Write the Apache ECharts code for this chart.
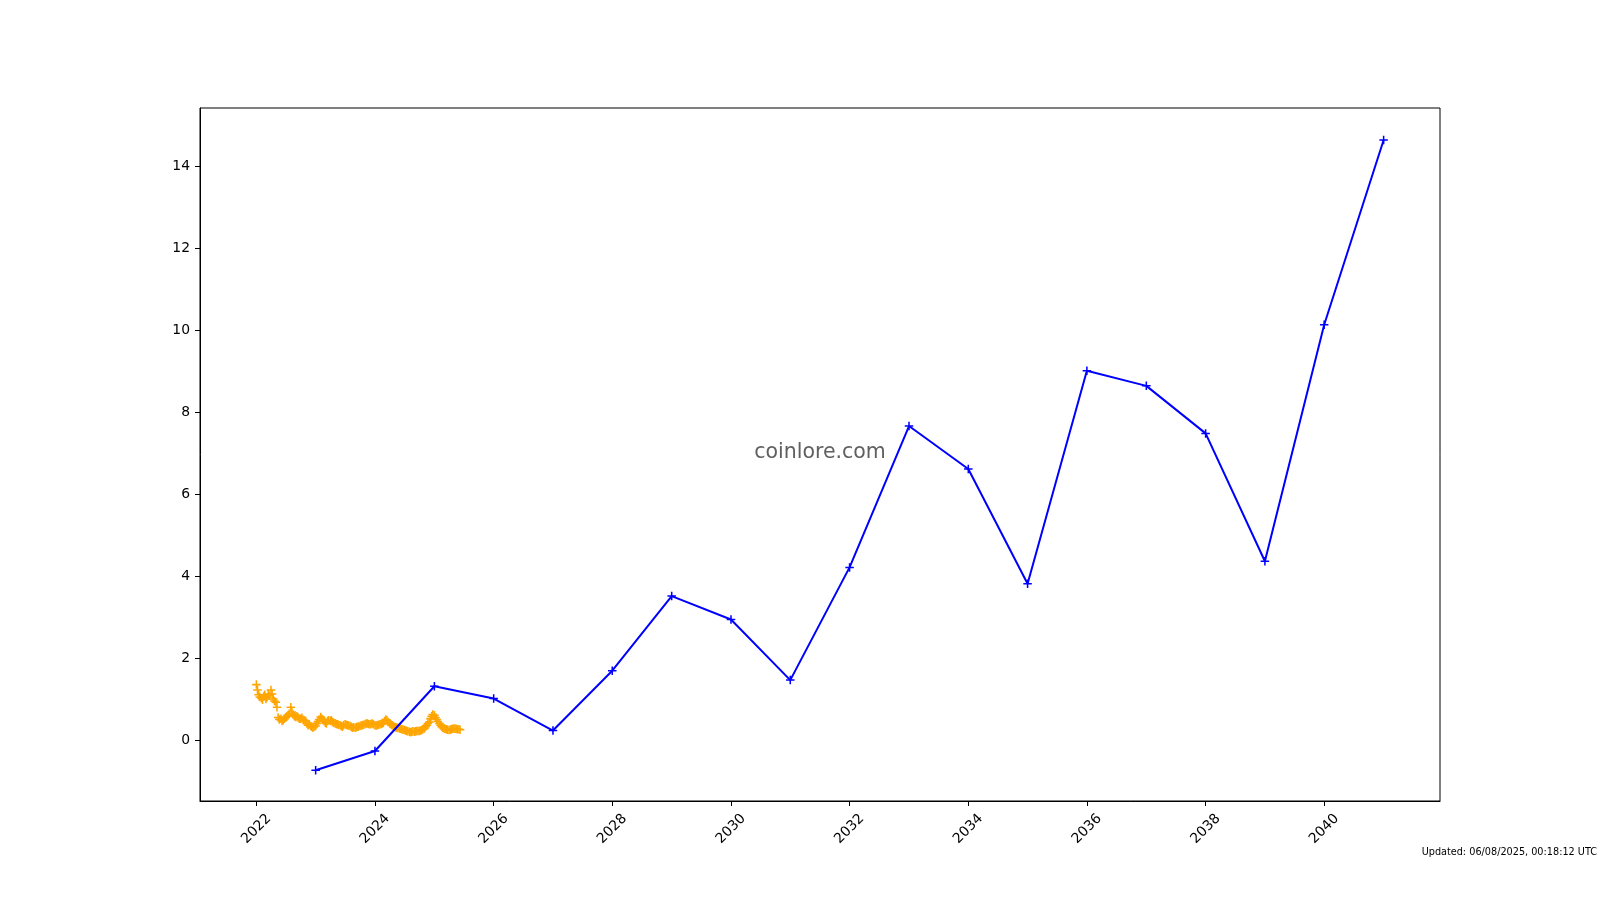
<!DOCTYPE html>
<html>
<head>
<meta charset="utf-8">
<script src="https://cdn.jsdelivr.net/npm/echarts@6/dist/echarts.min.js"></script>
<style>html,body{margin:0;padding:0;background:#fff}#c{width:1600px;height:900px}</style>
</head>
<body>
<div id="c"></div>
<script>
// Forecast (blue) series
var forecastDates = ['2023-01-01','2024-01-01','2025-01-01','2026-01-01','2027-01-01','2028-01-01','2029-01-01','2030-01-01','2031-01-01','2032-01-01','2033-01-01','2034-01-01','2035-01-01','2036-01-01','2037-01-01','2038-01-01','2039-01-01','2040-01-01','2041-01-01'];
var forecastValues = [-0.74,-0.27,1.31,1.01,0.23,1.69,3.51,2.94,1.46,4.21,7.66,6.61,3.81,9.01,8.64,7.48,4.36,10.13,14.64];

// Historical price (orange) series: one row per month, values on days 1, 8, 15, 22
var historyMonths = [
 '2022-01','2022-02','2022-03','2022-04','2022-05','2022-06','2022-07','2022-08','2022-09','2022-10','2022-11','2022-12',
 '2023-01','2023-02','2023-03','2023-04','2023-05','2023-06','2023-07','2023-08','2023-09','2023-10','2023-11','2023-12',
 '2024-01','2024-02','2024-03','2024-04','2024-05','2024-06','2024-07','2024-08','2024-09','2024-10','2024-11','2024-12',
 '2025-01','2025-02','2025-03','2025-04','2025-05','2025-06'
];
var historyDays = [1,8,15,22];
var historyValues = [
 [1.35,1.22,1.10,1.05],[1.02,0.98,1.06,1.10],[1.00,1.04,1.12,1.08],[1.22,1.12,1.00,0.95],[0.92,0.80,0.55,0.50],[0.52,0.46,0.48,0.52],
 [0.55,0.58,0.60,0.64],[0.80,0.68,0.62,0.58],[0.56,0.58,0.55,0.52],[0.52,0.54,0.50,0.48],[0.46,0.40,0.36,0.38],[0.34,0.32,0.30,0.32],
 [0.34,0.40,0.45,0.50],[0.56,0.52,0.50,0.46],[0.42,0.40,0.46,0.48],[0.46,0.48,0.44,0.42],[0.40,0.39,0.38,0.37],[0.36,0.34,0.32,0.36],
 [0.38,0.37,0.36,0.35],[0.34,0.32,0.30,0.31],[0.30,0.31,0.32,0.33],[0.34,0.35,0.36,0.37],[0.38,0.40,0.40,0.39],[0.38,0.39,0.40,0.38],
 [0.36,0.35,0.36,0.37],[0.38,0.39,0.40,0.42],[0.46,0.50,0.48,0.44],[0.40,0.38,0.36,0.34],[0.32,0.31,0.30,0.29],[0.28,0.27,0.26,0.25],
 [0.24,0.23,0.22,0.21],[0.20,0.19,0.20,0.21],[0.20,0.21,0.22,0.22],[0.22,0.23,0.24,0.26],[0.28,0.32,0.36,0.40],[0.44,0.52,0.58,0.62],
 [0.60,0.55,0.50,0.45],[0.40,0.36,0.32,0.30],[0.28,0.27,0.26,0.25],[0.24,0.25,0.26,0.27],[0.28,0.27,0.27,0.26],[0.26,0.25]
];

var xTickYears = [2022,2024,2026,2028,2030,2032,2034,2036,2038,2040];
var yTicks = [0,2,4,6,8,10,12,14];

function ts(s){var p=s.split('-');return Date.UTC(+p[0],+p[1]-1,+p[2]);}
var xTicks = xTickYears.map(function(y){return Date.UTC(y,0,1);});
var forecastData = forecastDates.map(function(d,i){return [ts(d),forecastValues[i]];});
var historyData = [];
historyMonths.forEach(function(m,i){
  historyValues[i].forEach(function(v,j){ historyData.push([ts(m+'-'+historyDays[j]), v]); });
});

var plus = 'path://M-0.9,-5 L0.9,-5 L0.9,-0.9 L5,-0.9 L5,0.9 L0.9,0.9 L0.9,5 L-0.9,5 L-0.9,0.9 L-5,0.9 L-5,-0.9 L-0.9,-0.9 Z';
var font = 'DejaVu Sans';

var chart = echarts.init(document.getElementById('c'), null, {renderer:'canvas'});
chart.setOption({
  animation:false,
  backgroundColor:'#fff',
  grid:{left:200,right:160,top:108,bottom:99,show:true,borderColor:'#000',borderWidth:1,backgroundColor:'transparent'},
  xAxis:{
    type:'value',
    min:Date.UTC(2021,0,19),
    max:Date.UTC(2041,11,14),
    axisLine:{show:true,onZero:false,lineStyle:{color:'#000',width:1}},
    axisTick:{show:true,length:5,inside:false,customValues:xTicks,lineStyle:{color:'#000',width:1}},
    axisLabel:{customValues:xTicks,rotate:45,align:'center',verticalAlign:'middle',margin:28,color:'#000',fontSize:13.9,fontFamily:font,
      formatter:function(v){return String(new Date(v).getUTCFullYear());}},
    splitLine:{show:false}
  },
  yAxis:{
    type:'value',
    min:-1.49,
    max:15.42,
    axisLine:{show:true,onZero:false,lineStyle:{color:'#000',width:1}},
    axisTick:{show:true,length:5,inside:false,customValues:yTicks,lineStyle:{color:'#000',width:1}},
    axisLabel:{customValues:yTicks,margin:10,color:'#000',fontSize:13.9,fontFamily:font},
    splitLine:{show:false}
  },
  series:[
    {
      type:'scatter',
      data:historyData,
      symbol:plus,
      symbolSize:8.5,
      itemStyle:{color:'#FFA500',opacity:1},
      z:2
    },
    {
      type:'line',
      data:forecastData,
      symbol:plus,
      symbolSize:8.5,
      showSymbol:true,
      lineStyle:{color:'#0000FF',width:2},
      itemStyle:{color:'#0000FF'},
      z:3
    }
  ],
  graphic:[
    {type:'text',style:{text:'coinlore.com',x:820,y:453,align:'center',verticalAlign:'middle',fontSize:20.5,fontFamily:font,fill:'#606060'}},
    {type:'text',style:{text:'Updated: 06/08/2025, 00:18:12 UTC',x:1597,y:852,align:'right',verticalAlign:'middle',fontSize:9.7,fontFamily:font,fill:'#000'}}
  ]
});
</script>
</body>
</html>
